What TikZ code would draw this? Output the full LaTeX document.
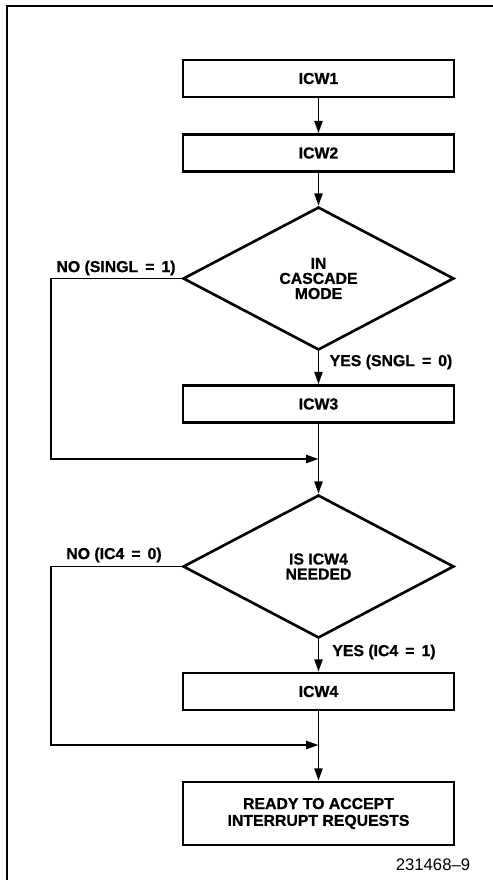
\documentclass[tikz,border=0pt]{standalone}
\usepackage{fontspec}
\setmainfont{Liberation Sans}
\usetikzlibrary{shapes.geometric,arrows.meta}

\tikzset{
  icwbox/.style={draw,line width=1.5pt,minimum width=5.42cm,minimum height=0.74cm,
    inner sep=0pt,align=center,font=\fontsize{9}{9.6}\selectfont\bfseries\addfontfeature{FakeBold=1}},
  testbox/.style={draw,diamond,line width=1.5pt,minimum width=5.42cm,minimum height=2.86cm,
    inner sep=0pt,align=center,font=\fontsize{9}{8.6}\selectfont\bfseries\addfontfeature{FakeBold=1}},
  tag/.style={inner sep=0pt,font=\fontsize{9}{9}\selectfont\bfseries\addfontfeature{FakeBold=1}},
  flow/.style={line width=1.1pt,-{Triangle[length=7pt,width=4.6pt]}}
}

\begin{document}
\begin{tikzpicture}[x=0.02cm,y=-0.02cm]
  \useasboundingbox (0,0) rectangle (493,880);

  \draw[line width=0.7pt] (7,880) -- (7,6) -- (493,6);

  \node[icwbox] (icw1) at (318.5,78.5) {ICW1};
  \node[icwbox] (icw2) at (318.5,153) {ICW2};
  \node[testbox] (cascade) at (318.5,278.5) {IN\\CASCADE\\MODE};
  \node[icwbox] (icw3) at (318.5,404) {ICW3};
  \node[testbox] (needed) at (318.5,566.5) {IS ICW4\\NEEDED};
  \node[icwbox] (icw4) at (318.5,691.5) {ICW4};
  \node[icwbox,minimum height=1.26cm] (ready) at (318.5,813.5)
    {READY TO ACCEPT\\INTERRUPT REQUESTS};

  \coordinate (join1) at (318.5,459);
  \coordinate (join2) at (318.5,745);
  \coordinate (skip1) at (51,459);
  \coordinate (skip2) at (51,745);

  \draw[flow] (icw1) -- (icw2);
  \draw[flow] (icw2) -- (cascade);
  \draw[flow] (cascade) -- (icw3);
  \draw[flow] (icw3) -- (needed);
  \draw[flow] (cascade.west) -- (cascade.west -| skip1) -- (skip1) -- (join1);
  \draw[flow] (needed) -- (icw4);
  \draw[flow] (icw4) -- (ready);
  \draw[flow] (needed.west) -- (needed.west -| skip2) -- (skip2) -- (join2);

  \node[tag] (no1) at (116,268) {NO (SINGL \,=\, 1)};
  \node[tag] (yes1) at (391,362) {YES (SNGL \,=\, 0)};
  \node[tag] (no2) at (114,555) {NO (IC4 \,=\, 0)};
  \node[tag] (yes2) at (384,652) {YES (IC4 \,=\, 1)};
  \node[inner sep=0pt,font=\fontsize{9.5}{9.5}\selectfont] (fig) at (433,865) {231468--9};
\end{tikzpicture}
\end{document}
